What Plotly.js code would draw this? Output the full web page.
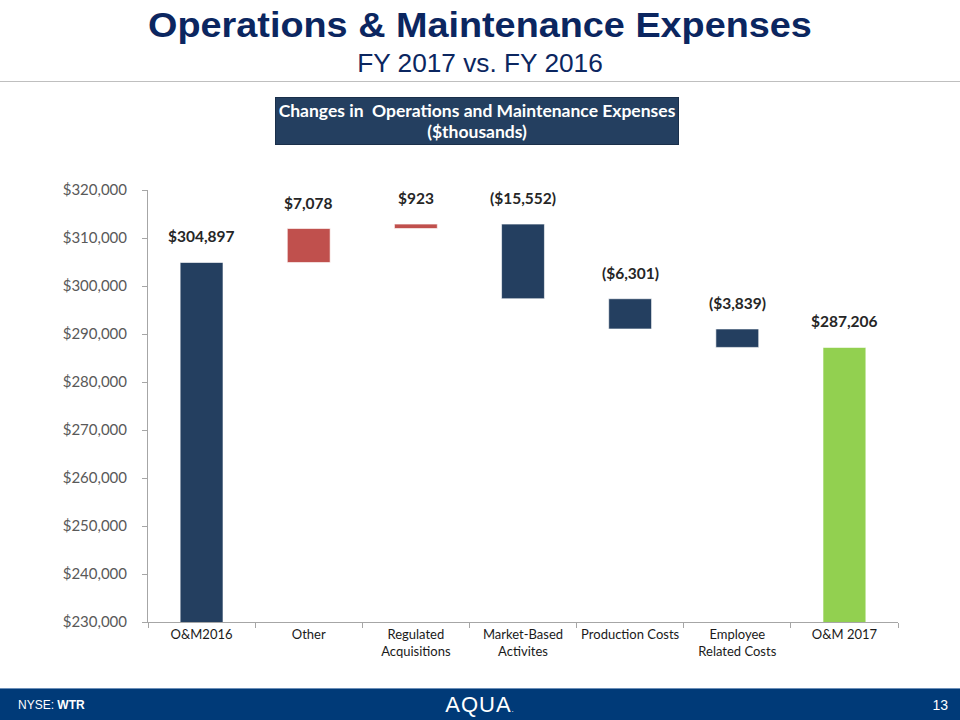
<!DOCTYPE html>
<html>
<head>
<meta charset="utf-8">
<script src="https://cdn.plot.ly/plotly-3.0.1.min.js"></script>
<style>
html,body{margin:0;padding:0;background:#fff;}
#wrap{position:relative;width:960px;height:720px;overflow:hidden;font-family:"Liberation Sans",Arial,sans-serif;}
#chart{position:absolute;left:0;top:0;width:960px;height:720px;}
#title{position:absolute;left:0;top:5px;width:960px;text-align:center;color:#0B2660;font-weight:bold;font-size:35px;transform:scaleX(1.08);transform-origin:480px 0;}
#subtitle{position:absolute;left:0;top:49px;width:960px;text-align:center;color:#0B2660;font-size:25px;transform:scaleX(1.05);transform-origin:480px 0;}
#rule{position:absolute;left:0;top:81px;width:960px;height:1px;background:#BFBFBF;}
#box{position:absolute;left:275px;top:97px;width:404px;height:48px;background:#243F60;border:1px solid #1a2f4a;color:#fff;font-family:Lato,"Open Sans",sans-serif;font-weight:bold;font-size:17.5px;line-height:21px;text-align:center;padding-top:2px;box-sizing:border-box;}
#footer{position:absolute;left:0;top:688px;width:960px;height:32px;background:#003A78;border-top:1px solid #6C8FB8;color:#fff;}
#nyse{position:absolute;left:18px;top:9px;font-size:12px;}
#aqua{position:absolute;left:0;width:960px;top:3px;text-align:center;font-size:22px;letter-spacing:1px;}
#page{position:absolute;right:12px;top:8px;font-size:14px;}
</style>
</head>
<body>
<div id="wrap">
<div id="chart"></div>
<div id="title">Operations &amp; Maintenance Expenses</div>
<div id="subtitle">FY 2017 vs. FY 2016</div>
<div id="rule"></div>
<div id="box">Changes in&nbsp; Operations and Maintenance Expenses<br>($thousands)</div>
<div id="footer">
<div id="nyse">NYSE: <b>WTR</b></div>
<div id="aqua">AQUA<span style="font-size:8px">.</span></div>
<div id="page">13</div>
</div>
</div>
<script>
// Data
var categories = ["O&M2016", "Other", "Regulated<br>Acquisitions", "Market-Based<br>Activites", "Production Costs", "Employee<br>Related Costs", "O&M 2017"];
var values = [304897, 7078, 923, -15552, -6301, -3839, 287206];
var measures = ["absolute", "relative", "relative", "relative", "relative", "relative", "total"];
var valueLabels = ["$304,897", "$7,078", "$923", "($15,552)", "($6,301)", "($3,839)", "$287,206"];
var yTickVals = [230000, 240000, 250000, 260000, 270000, 280000, 290000, 300000, 310000, 320000];
var yTickText = ["$230,000", "$240,000", "$250,000", "$260,000", "$270,000", "$280,000", "$290,000", "$300,000", "$310,000", "$320,000"];

var navy = "#243F60", red = "#C0504D", green = "#92D050";

// Build bar bases / heights from the data
var bases = [], heights = [], colors = [], tops = [];
var running = 0;
for (var i = 0; i < values.length; i++) {
  var m = measures[i], v = values[i];
  if (m === "absolute" || m === "total") {
    running = v;
    bases.push(0); heights.push(v);
    colors.push(m === "total" ? green : navy);
    tops.push(v);
  } else {
    var start = running;
    running += v;
    bases.push(Math.min(start, running));
    heights.push(Math.abs(v));
    colors.push(v >= 0 ? red : navy);
    tops.push(Math.max(start, running));
  }
}

var trace = {
  type: "bar",
  x: categories,
  y: heights,
  base: bases,
  width: 0.4,
  marker: {color: colors, line: {color: "rgba(255,255,255,0.6)", width: 1}},
  hoverinfo: "skip",
  cliponaxis: true
};

var annotations = categories.map(function (c, i) {
  return {
    x: c, y: tops[i], xref: "x", yref: "y",
    text: "<b>" + valueLabels[i] + "</b>",
    showarrow: false, yanchor: "bottom", yshift: 15,
    font: {family: "Lato, 'Open Sans', sans-serif", size: 15.5, color: "#262626"}
  };
});

var layout = {
  width: 960, height: 720,
  margin: {l: 148, r: 62, t: 190, b: 98},
  paper_bgcolor: "rgba(0,0,0,0)",
  plot_bgcolor: "rgba(0,0,0,0)",
  showlegend: false,
  xaxis: {
    type: "category",
    showline: true, linecolor: "#A6A6A6", linewidth: 1,
    ticks: "outside", tickson: "boundaries", ticklen: 5, tickcolor: "#A6A6A6",
    showgrid: false, zeroline: false,
    tickangle: 0, automargin: false,
    tickfont: {family: "Lato, 'Open Sans', sans-serif", size: 13, color: "#1a1a1a"}
  },
  yaxis: {
    range: [230000, 320000],
    tickmode: "array",
    tickvals: yTickVals,
    ticktext: yTickText,
    showline: true, linecolor: "#A6A6A6", linewidth: 1,
    ticks: "outside", ticklen: 5, tickcolor: "#A6A6A6",
    ticklabelstandoff: 12,
    showgrid: false, zeroline: false, automargin: false,
    tickfont: {family: "Lato, 'Open Sans', sans-serif", size: 15, color: "#595959"}
  },
  annotations: annotations
};

Plotly.newPlot("chart", [trace], layout, {displayModeBar: false, staticPlot: true});
</script>
</body>
</html>
